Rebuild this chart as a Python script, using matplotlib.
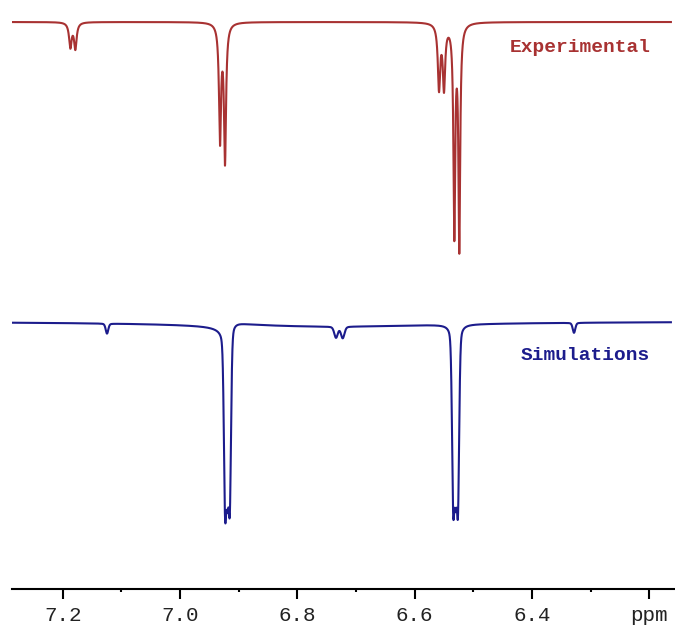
import numpy as np
import matplotlib
matplotlib.use('Agg')
import matplotlib.pyplot as plt

# peak lists (ppm, intensity, half width in ppm)
exp_ppm = [7.1870, 7.1785, 6.9318, 6.9233, 6.5584, 6.5499, 6.5323, 6.5238]
exp_int = [24.5, 26, 116, 137, 64, 63, 208, 222]
exp_hw = [0.0026, 0.0026, 0.0021, 0.0021, 0.0024, 0.0024, 0.0018, 0.0018]

sim_ppm = [7.1245, 6.9232, 6.9191, 6.9150, 6.7340, 6.7226, 6.5342, 6.5301, 6.5260, 6.3282]
sim_int = [10, 165, 132, 165, 11, 11.5, 165, 132, 165, 10]
sim_hw = [0.0026, 0.0024, 0.0024, 0.0024, 0.0035, 0.0035, 0.0024, 0.0024, 0.0024, 0.0026]

# baseline distortion of the simulated trace
sim_disp_ppm = [6.919]
sim_disp_amp = [8]
sim_disp_hw = [0.010]
sim_bowl_ppm = 6.75
sim_bowl_depth = 5.5
sim_bowl_hw = 0.25

exp_offset = 567
sim_offset = 267.5

tick_vals = [7.2, 7.0, 6.8, 6.6, 6.4, 6.2]
tick_text = ['7.2', '7.0', '6.8', '6.6', '6.4', 'ppm']

exp_color = '#a83232'
sim_color = '#1c1c8c'


def lineshape(x, centers, heights, widths, eta):
    y = np.zeros_like(x)
    for c, h, w in zip(centers, heights, widths):
        d = (x - c) / w
        y += h * (eta / (1 + d ** 2) + (1 - eta) * np.exp(-np.log(2) * d ** 2))
    return y


x = np.linspace(7.29, 6.163, 30000)

exp_y = exp_offset - lineshape(x, exp_ppm, exp_int, exp_hw, 1.0)

sim_y = sim_offset - lineshape(x, sim_ppm, sim_int, sim_hw, 0.3)
for c, a, w in zip(sim_disp_ppm, sim_disp_amp, sim_disp_hw):
    sim_y += a * (c - x) * w / ((x - c) ** 2 + w ** 2)
sim_y -= sim_bowl_depth / (1 + ((x - sim_bowl_ppm) / sim_bowl_hw) ** 2)

fig = plt.figure(figsize=(6.75, 6.28), dpi=100)
ax = fig.add_axes([11.7 / 675, 1 - 589 / 628, 663.3 / 675, 589 / 628])

ax.plot(x, exp_y, color=exp_color, lw=1.5)
ax.plot(x, sim_y, color=sim_color, lw=1.5)

ax.text(6.318, 542, 'Experimental', color=exp_color, fontsize=14, fontweight='bold',
        family='Liberation Mono', ha='center', va='center')
ax.text(6.309, 233, 'Simulations', color=sim_color, fontsize=14, fontweight='bold',
        family='Liberation Mono', ha='center', va='center')

ax.set_xlim(7.287, 6.156)
ax.set_ylim(0, 589)

for s in ['top', 'left', 'right']:
    ax.spines[s].set_visible(False)
ax.spines['bottom'].set_linewidth(1.5)

ax.set_yticks([])
ax.set_xticks(tick_vals)
ax.set_xticklabels(tick_text, family='Liberation Mono', fontsize=15, color='#222222')
ax.set_xticks([7.1, 6.9, 6.7, 6.5, 6.3], minor=True)
ax.tick_params(axis='x', which='major', length=7.2, width=1.5, pad=5)
ax.tick_params(axis='x', which='minor', length=2.5, width=1.5)

plt.savefig('out.png', dpi=100)
